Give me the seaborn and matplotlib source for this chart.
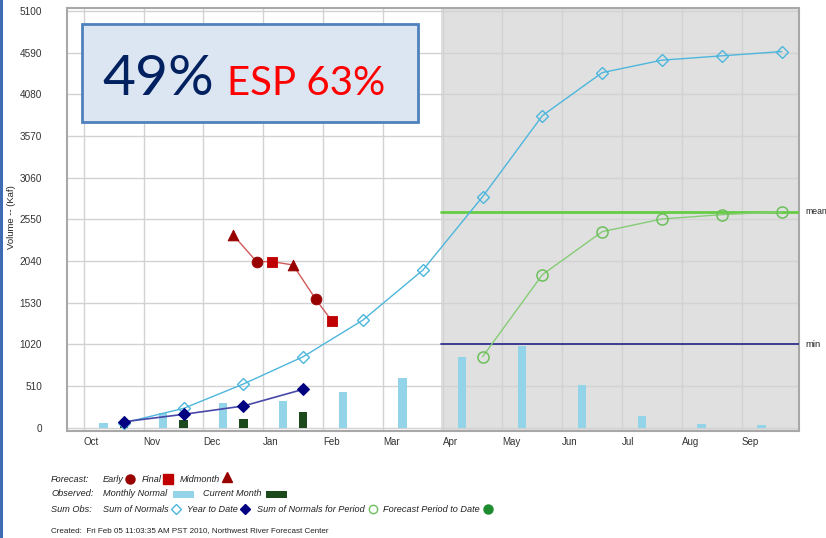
import matplotlib
matplotlib.use('Agg')
import matplotlib.pyplot as plt
import matplotlib.patches as mpatches
import seaborn as sns

# Water year months (x position i = start of month)
months = ['Oct', 'Nov', 'Dec', 'Jan', 'Feb', 'Mar', 'Apr', 'May', 'Jun', 'Jul', 'Aug', 'Sep']
month_pos = list(range(12))

# Observed volumes (kaf)
monthly_normal = [60, 176, 299, 330, 433, 608, 869, 1000, 523, 143, 49, 33]
current_month = [70, 94, 106, 192]

# Cumulative sums (kaf), plotted near end of month
sum_normals = [60, 237, 535, 869, 1318, 1928, 2827, 3819, 4345, 4497, 4550, 4602]
year_to_date = [73, 164, 266, 470]
period_normals = [869, 1873, 2399, 2554, 2607, 2640]  # Apr..Sep

# Forecasts (month fraction, kaf)
forecast_pos = [2.5, 2.89, 3.15, 3.5, 3.88, 4.15]
forecast_vals = [2356, 2032, 2032, 1991, 1571, 1306]
forecast_kind = ['Midmonth', 'Early', 'Final', 'Midmonth', 'Early', 'Final']

mean_val = 2644
min_val = 1020
yticks = [0, 510, 1020, 1530, 2040, 2550, 3060, 3570, 4080, 4590, 5100]

LIGHT_BLUE = '#94d4e8'
DARK_GREEN = '#1c4a1c'
SUM_BLUE = '#4db6dc'
NAVY = '#000080'
RED_LINE = '#d05a5a'
GREEN = '#6cc05a'

sns.set_style('white')
plt.rcParams['font.family'] = ['Liberation Sans', 'DejaVu Sans']

fig = plt.figure(figsize=(8.26, 5.38), dpi=100)
ax = fig.add_axes([67 / 826, 1 - 431 / 538, 732 / 826, 423 / 538])

# shaded forecast period
ax.axvspan(5.97, 12.5, color='#e0e0e0', zorder=0.2, lw=0)

# bars
ax.bar([p + 0.33 for p in month_pos], monthly_normal, width=0.14, color=LIGHT_BLUE,
       edgecolor='none', linewidth=0, zorder=2)
ax.bar([p + 0.67 for p in month_pos[:len(current_month)]], current_month, width=0.14,
       color=DARK_GREEN, edgecolor='none', linewidth=0, zorder=2)

# reference lines
ax.plot([5.97, 12.5], [mean_val, mean_val], color='#66cc44', lw=2, zorder=3)
ax.plot([5.97, 12.5], [min_val, min_val], color='#303090', lw=1.3, zorder=3)

# sum of normals
sns.lineplot(x=[p + 0.67 for p in month_pos], y=sum_normals, ax=ax, color=SUM_BLUE, lw=1,
             marker='D', markersize=6.5, markerfacecolor='none', markeredgecolor=SUM_BLUE,
             markeredgewidth=1, zorder=4)
# year to date
sns.lineplot(x=[p + 0.67 for p in month_pos[:len(year_to_date)]], y=year_to_date, ax=ax,
             color='#4848a8', lw=1.2, marker='D', markersize=6.5, markerfacecolor=NAVY,
             markeredgecolor=NAVY, zorder=5)
# sum of normals for period
sns.lineplot(x=[p + 0.67 for p in month_pos[6:]], y=period_normals, ax=ax, color='#86cc76', lw=1,
             marker='o', markersize=8, markerfacecolor='none', markeredgecolor=GREEN,
             markeredgewidth=1.1, zorder=4)

# forecasts
sns.lineplot(x=forecast_pos, y=forecast_vals, ax=ax, color=RED_LINE, lw=1, sort=False, zorder=5)
kind_style = {'Early': ('o', '#990000', 60), 'Final': ('s', '#c00000', 60), 'Midmonth': ('^', '#990000', 60)}
for kind, (mk, col, size) in kind_style.items():
    xs = [p for p, k in zip(forecast_pos, forecast_kind) if k == kind]
    ys = [v for v, k in zip(forecast_vals, forecast_kind) if k == kind]
    sns.scatterplot(x=xs, y=ys, ax=ax, marker=mk, color=col, s=size, edgecolor=col, zorder=6)

ax.set_xlim(-0.28, 11.96)
ax.set_ylim(-40, 5135)
ax.set_xticks(month_pos)
ax.set_xticklabels(months, ha='left', fontsize=7, color='#333333')
ax.set_yticks(yticks)
ax.set_yticklabels([str(v) for v in yticks], fontsize=7.2, color='#333333')
ax.tick_params(axis='both', length=0)
ax.tick_params(axis='y', pad=18)
ax.tick_params(axis='x', pad=4)
ax.grid(True, color='#d2d2d2', lw=1)
ax.set_axisbelow(True)
for s in ax.spines.values():
    s.set_color('#a8a8a8')
    s.set_linewidth(1.5)

ax.text(12.06, mean_val, 'mean', fontsize=6.2, va='center', ha='left', color='#222222', clip_on=False)
ax.text(12.06, min_val, 'min', fontsize=6.8, va='center', ha='left', color='#222222', clip_on=False)

# overlay in pixel coordinates
ov = fig.add_axes([0, 0, 1, 1], zorder=10)
ov.set_xlim(0, 826)
ov.set_ylim(538, 0)
ov.axis('off')
ov.patch.set_alpha(0)

ov.add_patch(mpatches.Rectangle((0, 0), 2.5, 538, color='#3d6cb5', lw=0))
ov.text(12, 217, 'Volume -- (Kaf)', rotation=90, fontsize=6.8, ha='center', va='center', color='#222222')

# percentage box
ov.add_patch(mpatches.Rectangle((82, 24), 336, 97.5, facecolor='#dce6f2', edgecolor='#4f81bd', lw=2))
ov.text(102, 95, '49%', family='Lato', fontsize=41, color='#002060', va='baseline', ha='left')
ov.text(227, 95, 'ESP 63%', family='Lato', fontsize=29, color='#ff0000', va='baseline', ha='left')

# legend rows
lf = dict(fontsize=6.6, style='italic', color='#222222', va='center', ha='left')
ov.text(51, 479, 'Forecast:', **lf)
ov.text(103, 479, 'Early', **lf)
ov.plot(130, 479, 'o', color='#990000', ms=6.5)
ov.text(142, 479, 'Final', **lf)
ov.plot(168, 479, 's', color='#c00000', ms=6.5)
ov.text(180, 479, 'Midmonth', **lf)
ov.plot(227, 477, '^', color='#990000', ms=6.5)

ov.text(51, 494, 'Observed:', **lf)
ov.text(103, 494, 'Monthly Normal', **lf)
ov.add_patch(mpatches.Rectangle((173, 490.5), 20.5, 7.5, color=LIGHT_BLUE, lw=0))
ov.text(203, 494, 'Current Month', **lf)
ov.add_patch(mpatches.Rectangle((266, 490.5), 20.5, 7.5, color=DARK_GREEN, lw=0))

ov.text(51, 509, 'Sum Obs:', **lf)
ov.text(103, 509, 'Sum of Normals', **lf)
ov.plot(176, 509, 'D', mfc='none', mec=SUM_BLUE, ms=5.5)
ov.text(187, 509, 'Year to Date', **lf)
ov.plot(245, 509, 'D', color=NAVY, ms=5.5)
ov.text(257, 509, 'Sum of Normals for Period', **lf)
ov.plot(373, 509, 'o', mfc='none', mec=GREEN, ms=6)
ov.text(383, 509, 'Forecast Period to Date', **lf)
ov.plot(488, 509, 'o', color='#1e8c2e', ms=6.5)

ov.text(51, 531, 'Created:  Fri Feb 05 11:03:35 AM PST 2010, Northwest River Forecast Center',
        fontsize=5.8, color='#222222', va='center', ha='left')

fig.savefig('out.png', dpi=100)
